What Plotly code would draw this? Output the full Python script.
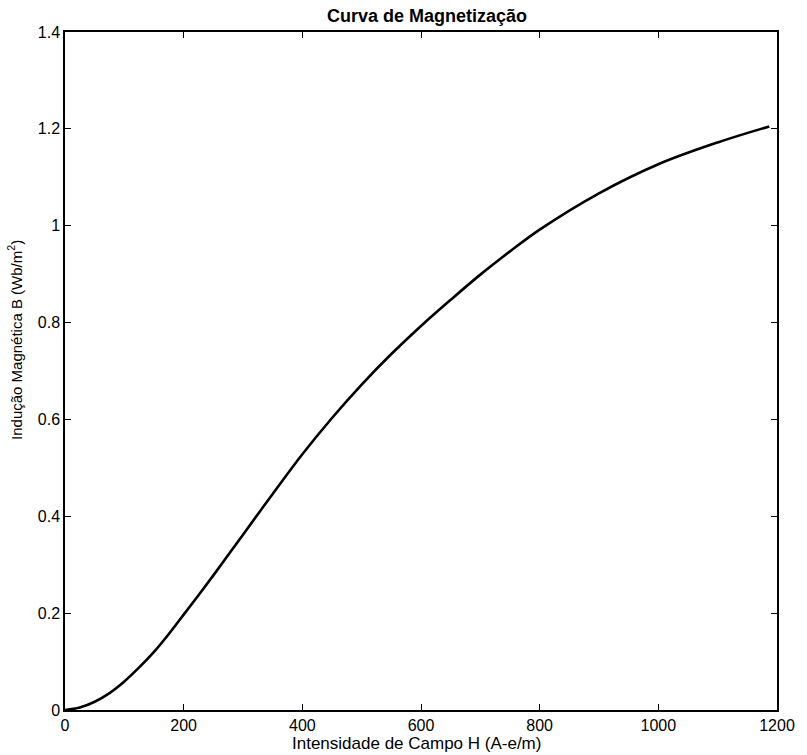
import plotly.graph_objects as go

# Magnetization curve
H = [0, 25, 50, 75, 100, 125, 150, 175, 200, 225, 250, 275, 300, 350, 400,
     450, 500, 550, 600, 650, 700, 750, 800, 900, 1000, 1100, 1187]
B = [0, 0.005, 0.017, 0.035, 0.059, 0.088, 0.12, 0.157, 0.197, 0.237, 0.278,
     0.32, 0.362, 0.446, 0.528, 0.603, 0.672, 0.735, 0.793, 0.847, 0.899,
     0.947, 0.992, 1.067, 1.127, 1.172, 1.205]

x_ticks = [0, 200, 400, 600, 800, 1000, 1200]
y_ticks = [0, 0.2, 0.4, 0.6, 0.8, 1.0, 1.2, 1.4]
y_tick_text = ["0", "0.2", "0.4", "0.6", "0.8", "1", "1.2", "1.4"]

title_text = "Curva de Magnetização"
x_label = "Intensidade de Campo H (A-e/m)"
y_label = "Indução Magnética B (Wb/m<sup>2</sup>)"

FONT = "Liberation Sans, Arial, sans-serif"

fig = go.Figure()
fig.add_trace(go.Scatter(x=H, y=B, mode="lines",
                         line=dict(color="black", width=2.6, shape="spline", smoothing=1.0),
                         showlegend=False))

axis_common = dict(showline=True, linecolor="black", linewidth=1.5, mirror="ticks",
                   ticks="inside", ticklen=6, tickwidth=1.2, tickcolor="black",
                   showgrid=False, zeroline=False, ticklabeloverflow="allow",
                   tickfont=dict(family=FONT, size=16, color="black"))

fig.update_layout(
    width=807, height=755,
    margin=dict(l=65, r=14, t=32, b=45),
    paper_bgcolor="white", plot_bgcolor="white",
    font=dict(family=FONT, color="black"),
    xaxis=dict(range=[0, 1200], tickvals=x_ticks, ticktext=[str(v) for v in x_ticks], **axis_common),
    yaxis=dict(range=[0, 1.4], tickvals=y_ticks, ticktext=y_tick_text, **axis_common),
    annotations=[
        dict(text="<b>" + title_text + "</b>", xref="paper", yref="paper", x=0.508, y=1.024,
             xanchor="center", yanchor="middle", showarrow=False,
             font=dict(family=FONT, size=18, color="black")),
        dict(text=x_label, xref="paper", yref="paper", x=0.493, y=-0.05,
             xanchor="center", yanchor="middle", showarrow=False,
             font=dict(family=FONT, size=17, color="black")),
        dict(text=y_label, xref="paper", yref="paper", x=-0.07, y=0.546,
             xanchor="center", yanchor="middle", textangle=-90, showarrow=False,
             font=dict(family=FONT, size=15, color="black")),
    ],
)

fig.write_html("out.html", config={"displayModeBar": False},
               post_script="document.body.style.margin='0';")
